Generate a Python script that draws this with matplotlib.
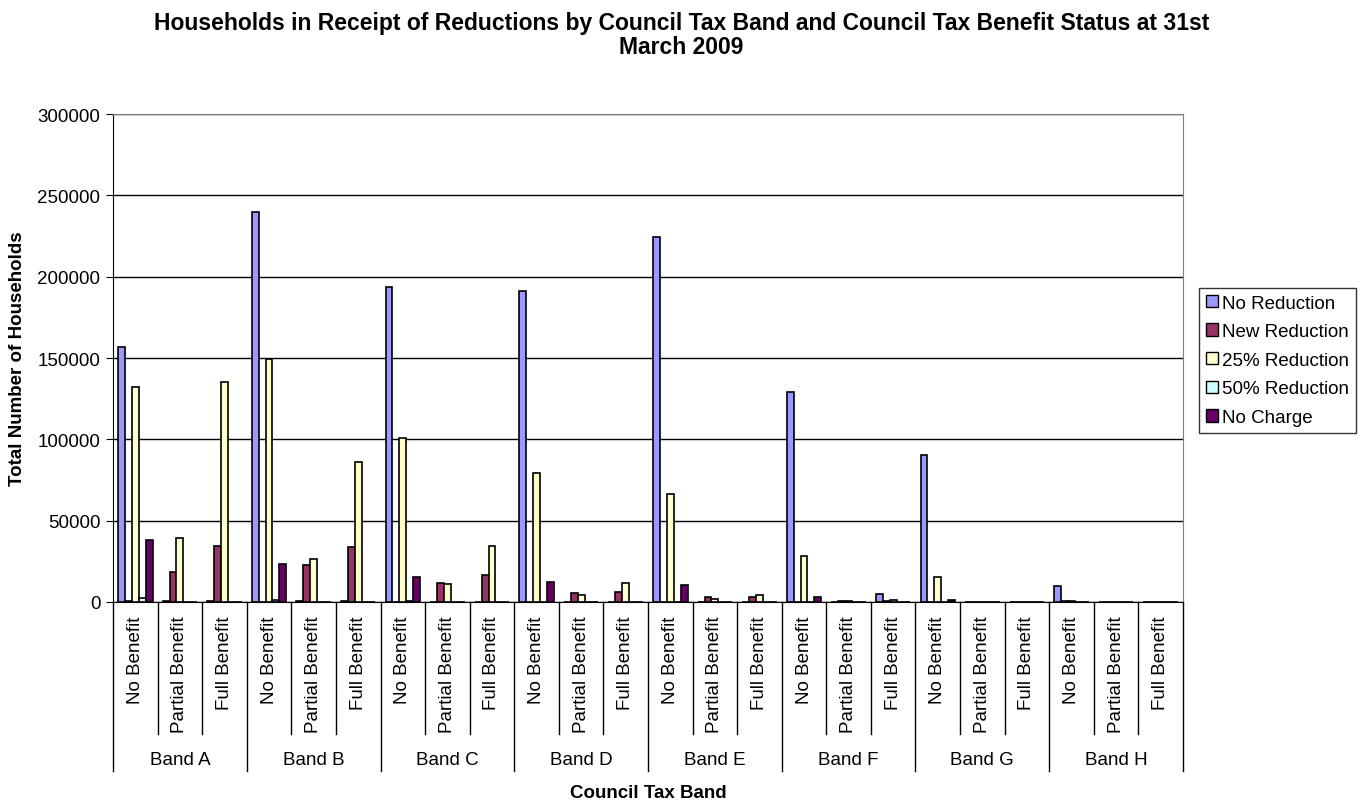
import matplotlib.pyplot as plt
import numpy as np
from matplotlib.patches import Patch

plt.rcParams["font.family"] = ["Liberation Sans", "DejaVu Sans"]

bands = ["Band A", "Band B", "Band C", "Band D", "Band E", "Band F", "Band G", "Band H"]
benefits = ["No Benefit", "Partial Benefit", "Full Benefit"]
series_names = ["No Reduction", "New Reduction", "25% Reduction", "50% Reduction", "No Charge"]
colors = ["#9999FF", "#993366", "#FFFFCC", "#CCFFFF", "#660066"]

# one value per (band, benefit) pair, band-major order
no_reduction = [157000, 800, 800, 240000, 500, 500, 193800, 300, 300, 191000, 300, 300,
                224200, 200, 200, 128900, 200, 4900, 90600, 300, 200, 9700, 0, 0]
new_reduction = [500, 18200, 34200, 300, 22700, 34000, 300, 11700, 16400, 300, 5300, 6100,
                 200, 3300, 3100, 200, 800, 400, 100, 300, 100, 800, 0, 0]
reduction_25 = [132000, 39300, 135200, 149400, 26600, 86300, 100600, 11300, 34400, 79100, 4100, 11700,
                66400, 1800, 4500, 28500, 400, 1400, 15200, 200, 100, 500, 0, 0]
reduction_50 = [2300, 0, 0, 1000, 0, 0, 800, 0, 0, 300, 0, 0,
                200, 0, 0, 100, 0, 0, 0, 0, 0, 0, 0, 0]
no_charge = [38300, 200, 300, 23500, 100, 300, 15600, 100, 300, 12300, 100, 100,
             10500, 100, 100, 3300, 0, 100, 1400, 0, 0, 300, 0, 0]

series = [no_reduction, new_reduction, reduction_25, reduction_50, no_charge]
fs = 13.5

fig = plt.figure(figsize=(13.63, 8.03), dpi=100)
ax = fig.add_axes([113 / 1363, 1 - 603 / 803, 1070 / 1363, 488 / 803])

n = len(bands) * len(benefits)
x = np.arange(n)
w = 0.155
for k, (vals, c) in enumerate(zip(series, colors)):
    ax.bar(x + (k - 2) * w, vals, w, color=c, edgecolor="black", linewidth=1.2, zorder=3)

ax.set_xlim(-0.5, n - 0.5)
ax.set_ylim(0, 300000)
ax.set_yticks(np.arange(0, 300001, 50000))
ax.yaxis.grid(True, color="black", linewidth=1)
ax.set_axisbelow(True)
ax.tick_params(axis="y", labelsize=fs, length=5, direction="out", pad=4)
ax.set_xticks([])
for s in ["top", "right"]:
    ax.spines[s].set_color("#808080")
ax.spines["left"].set_color("black")
ax.spines["bottom"].set_color("black")

# multi-level category axis
tr = ax.get_xaxis_transform()
for i in range(n):
    ax.text(i, -0.027, benefits[i % 3], rotation=90, ha="center", va="top",
            fontsize=fs, transform=tr)
for i in range(n + 1):
    bottom = -0.346 if i % 3 == 0 else -0.270
    ax.plot([i - 0.5, i - 0.5], [0, bottom], color="black", linewidth=1,
            transform=tr, clip_on=False)
for b, name in enumerate(bands):
    ax.text(b * 3 + 1, -0.322, name, ha="center", va="center", fontsize=fs, transform=tr)

ax.text(0.5, -0.39, "Council Tax Band", ha="center", va="center", fontsize=fs,
        fontweight="bold", transform=ax.transAxes)
ax.set_ylabel("Total Number of Households", fontsize=fs, fontweight="bold")
ax.yaxis.set_label_coords(-0.081, 0.5)

fig.text(0.5, 1 - 12 / 803,
         "Households in Receipt of Reductions by Council Tax Band and Council Tax Benefit Status at 31st\nMarch 2009",
         ha="center", va="top", fontsize=16.5, fontweight="bold", linespacing=1.05)

handles = [Patch(facecolor=c, edgecolor="black", linewidth=1) for c in colors]
leg = fig.legend(handles, series_names, loc="upper left", bbox_to_anchor=(1199 / 1363, 1 - 289 / 803),
                 fontsize=fs, frameon=True, fancybox=False, edgecolor="black",
                 handlelength=0.65, handleheight=0.65, handletextpad=0.25, labelspacing=0.62,
                 borderpad=0.35, borderaxespad=0)
leg.get_frame().set_linewidth(1)

fig.savefig("out.png", dpi=100)
